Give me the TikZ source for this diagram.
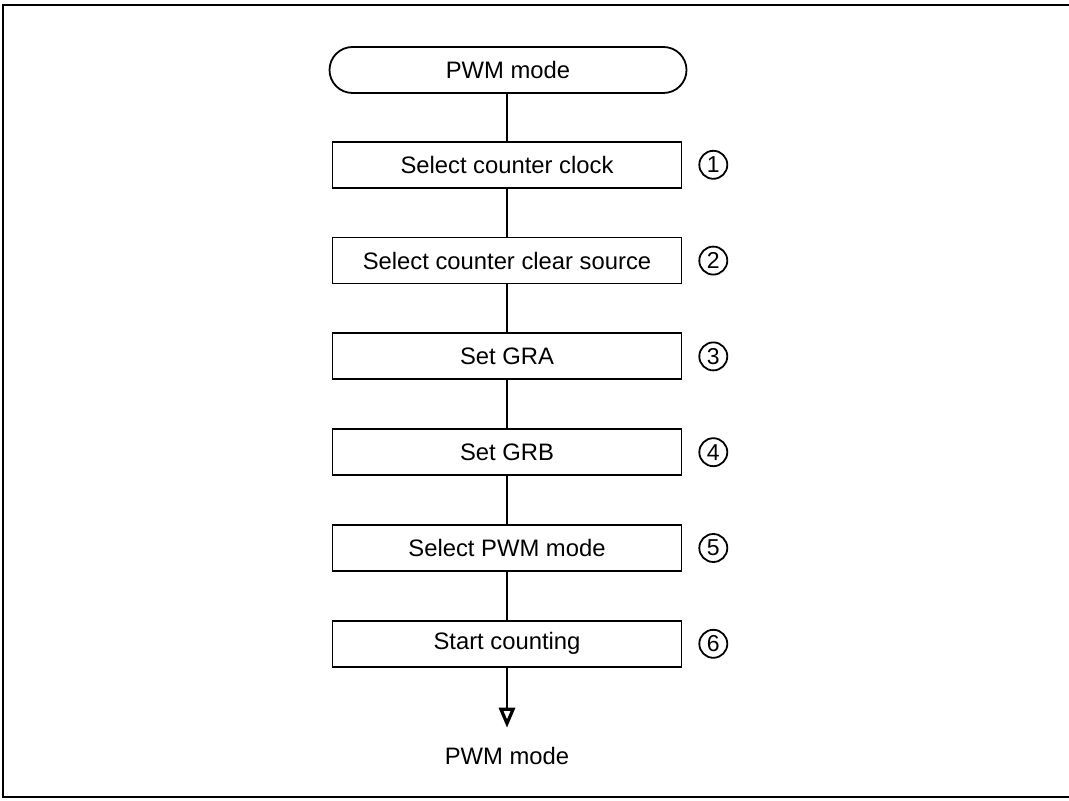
\documentclass[tikz,border=0pt]{standalone}
\usepackage{fontspec}
\setmainfont{Liberation Sans}
\usepackage{tikz}
\usetikzlibrary{arrows.meta, positioning}

\begin{document}
\begin{tikzpicture}[
  x=0.5pt, y=-0.5pt,
  font=\fontsize{11.9}{14}\selectfont,
  term/.style={draw, line width=0.9pt, rounded corners=11.5pt, minimum height=23pt, minimum width=178.5pt, align=center},
  stepbox/.style={draw, line width=0.9pt, minimum height=23pt, minimum width=174.5pt, align=center},
  num/.style={draw, circle, line width=0.9pt, minimum size=14pt, inner sep=0pt, font=\fontsize{11.5}{12}\selectfont},
  ar/.style={-{Triangle[open, length=10pt, width=8pt, line width=1.6pt]}, line width=0.75pt},
  ln/.style={line width=0.75pt}
]
\useasboundingbox (0,0) rectangle (1069,801);
\draw[line width=0.9pt] (3,5) rectangle (1080,797);
\node[term] (start) at (508,70) {PWM mode};
\node[stepbox, below=23.5pt of start.south, anchor=north, xshift=-0.5pt] (s1) {Select counter clock};
\node[stepbox, below=24pt of s1] (s2) {Select counter clear source};
\node[stepbox, below=24pt of s2] (s3) {Set GRA};
\node[stepbox, below=24pt of s3] (s4) {Set GRB};
\node[stepbox, below=24pt of s4] (s5) {Select PWM mode};
\node[stepbox, below=24pt of s5] (s6) {Start counting};
\node[num, right=8pt of s1] (n1) {1};
\node[num, right=8pt of s2] (n2) {2};
\node[num, right=8pt of s3] (n3) {3};
\node[num, right=8pt of s4] (n4) {4};
\node[num, right=8pt of s5] (n5) {5};
\node[num, right=8pt of s6] (n6) {6};
\node[inner sep=0pt, below=39.5pt of s6] (fin) {PWM mode};
\draw[ln] (start.south -| s1.north) -- (s1);
\draw[ln] (s1) -- (s2);
\draw[ln] (s2) -- (s3);
\draw[ln] (s3) -- (s4);
\draw[ln] (s4) -- (s5);
\draw[ln] (s5) -- (s6);
\draw[ar, shorten >=9.5pt] (s6) -- (fin);
\end{tikzpicture}
\end{document}
